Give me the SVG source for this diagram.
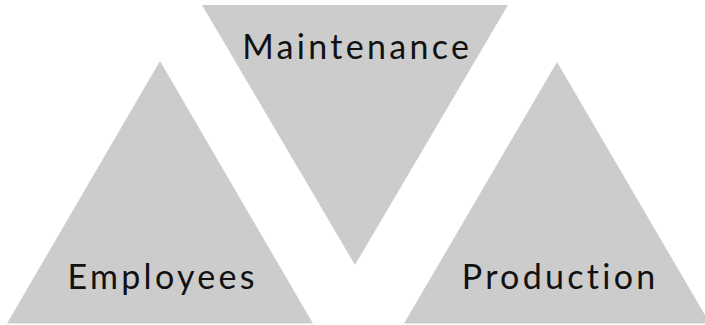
<svg xmlns="http://www.w3.org/2000/svg" width="705" height="325" viewBox="0 0 705 325">
<style>
.tri{fill:#cccccc;stroke:none}
.lbl{font-family:Lato,"Noto Sans",sans-serif;font-size:34px;fill:#111111;text-anchor:middle;letter-spacing:3.3px;font-variant-ligatures:none}
</style>
<rect width="705" height="325" fill="#ffffff"/>
<g id="employees">
<polygon class="tri" points="160,61 7,323.5 313,323.5"/>
<text class="lbl" x="162.7" y="288.5">Employees</text>
</g>
<g id="maintenance">
<polygon class="tri" points="202,5 508,5 355,265"/>
<text class="lbl" x="357.2" y="59">Maintenance</text>
</g>
<g id="production">
<polygon class="tri" points="557,62 404,323.5 710,323.5"/>
<text class="lbl" x="560.2" y="288.5">Production</text>
</g>
<g id="connectors"/>
</svg>
